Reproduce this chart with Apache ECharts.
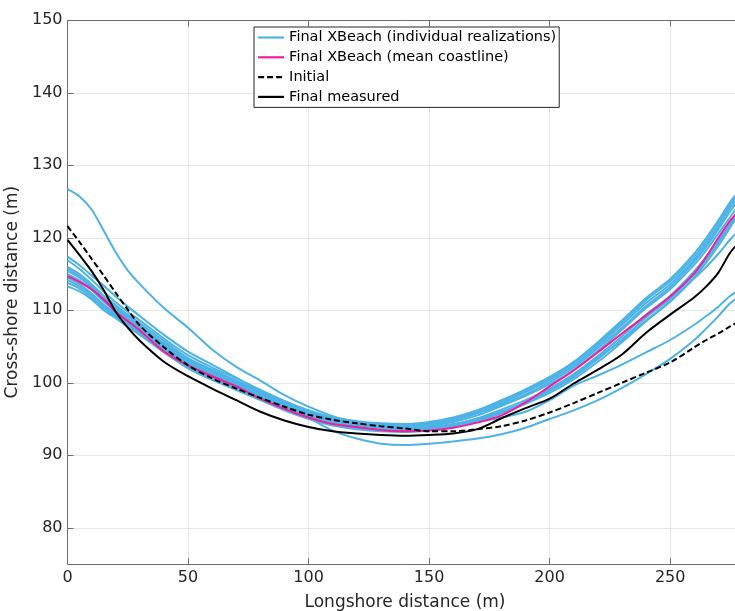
<!DOCTYPE html>
<html>
<head>
<meta charset="utf-8">
<script src="https://cdn.jsdelivr.net/npm/echarts@6/dist/echarts.min.js"></script>
<style>
  html, body { margin: 0; padding: 0; background: #fff; }
  #chart { width: 735px; height: 611px; }
</style>
</head>
<body>
<div id="chart"></div>
<script>
// Longshore positions (m) shared by every coastline
const longshore = [0,5,10,15,20,25,30,40,50,60,70,80,90,100,110,120,130,140,150,160,170,180,190,200,210,220,230,240,250,260,265,270,275,280];

// Cross-shore positions (m)
const initialLine = [121.6,119.4,117.1,114.8,112.4,110.1,107.9,104.9,102.4,100.6,99.2,97.9,96.7,95.6,94.9,94.4,94.0,93.7,93.3,93.3,93.6,94.0,94.8,95.9,97.2,98.6,100.0,101.4,102.8,104.9,105.9,106.8,107.8,108.7];
const measuredLine = [119.7,117.6,115.4,112.8,109.8,107.6,105.8,102.9,100.9,99.2,97.6,96.0,94.8,93.9,93.3,93.0,92.8,92.7,92.8,93.0,93.6,95.1,96.5,97.8,99.9,101.8,103.9,106.9,109.4,111.8,113.3,115.2,118.0,119.8];
const meanLine = [114.7,113.9,112.9,111.5,109.8,108.5,107.2,104.3,102.4,100.9,99.5,97.8,96.4,95.2,94.3,93.9,93.5,93.3,93.4,93.8,94.5,95.5,97.3,99.5,101.7,104.2,106.8,109.3,111.9,115.1,117.4,120.0,122.4,124.3];

// Individual XBeach realizations
const realizations = [
  [126.7,125.7,123.9,121.0,118.0,115.5,113.6,110.3,107.6,104.6,102.2,100.3,98.3,96.7,95.4,94.6,94.1,93.9,93.9,94.1,94.6,95.2,96.0,97.6,99.6,101.0,102.5,104.2,105.9,108.0,109.2,110.5,112.0,113.0],
  [117.4,116.2,114.8,113.4,111.9,110.5,109.2,106.6,104.3,102.5,100.7,98.9,97.0,95.2,93.4,92.3,91.6,91.4,91.6,91.9,92.3,92.9,93.8,95.0,96.2,97.6,99.3,101.2,103.3,105.9,107.5,109.2,111.0,112.2],
  [116.0,115.0,113.6,112.0,110.7,109.4,108.2,105.8,103.4,101.8,100.3,98.8,97.3,96.0,95.1,94.6,94.3,94.2,94.5,95.1,96.1,97.4,98.9,100.6,102.7,105.4,108.3,111.4,114.0,117.4,119.6,122.0,124.6,126.8],
  [113.3,112.6,111.5,110.0,108.9,107.7,106.6,104.2,102.0,100.4,99.0,97.6,96.2,95.0,94.1,93.6,93.3,93.2,93.4,93.9,94.7,95.8,97.1,98.6,100.5,102.9,105.6,108.5,111.2,114.6,116.6,118.9,121.5,124.2],
  [115.4,114.5,113.1,111.5,110.2,108.9,107.7,105.3,103.0,101.4,100.0,98.5,97.0,95.8,94.9,94.4,94.1,94.0,94.2,94.8,95.8,97.0,98.4,100.1,102.1,104.8,107.6,110.6,113.2,116.7,118.8,121.2,123.7,126.0],
  [114.2,113.3,112.1,110.6,109.3,108.2,107.0,104.6,102.4,100.8,99.4,97.9,96.5,95.3,94.4,93.9,93.6,93.5,93.7,94.2,95.1,96.3,97.6,99.2,101.2,103.7,106.4,109.4,112.0,115.4,117.4,119.6,122.0,124.5],
  [115.0,114.1,112.8,111.2,109.9,108.7,107.5,105.1,102.8,101.2,99.8,98.3,96.9,95.7,94.8,94.3,94.0,93.9,94.1,94.6,95.5,96.8,98.2,99.8,101.8,104.4,107.3,110.3,112.9,116.3,118.3,120.6,122.9,125.3],
  [113.8,113.0,111.8,110.3,109.1,107.9,106.8,104.4,102.2,100.6,99.2,97.7,96.3,95.1,94.2,93.7,93.4,93.3,93.5,94.0,94.9,96.0,97.3,98.9,100.8,103.3,106.0,109.0,111.6,115.0,117.0,119.3,121.8,124.3],
  [115.7,114.7,113.3,111.7,110.4,109.1,107.9,105.5,103.2,101.6,100.1,98.6,97.1,95.9,95.0,94.5,94.2,94.1,94.3,94.9,95.9,97.2,98.7,100.4,102.4,105.1,108.0,111.0,113.6,117.0,119.2,121.6,124.2,126.4],
  [114.5,113.6,112.3,110.8,109.6,108.4,107.2,104.8,102.6,101.0,99.6,98.1,96.7,95.5,94.6,94.1,93.8,93.7,93.9,94.3,95.0,96.0,97.3,99.0,101.0,103.5,105.8,108.6,111.2,114.4,116.0,117.8,119.8,121.5],
  [116.9,115.7,114.2,112.6,111.1,109.8,108.6,106.1,103.8,102.1,100.6,99.0,97.5,96.2,95.2,94.7,94.4,94.3,94.6,95.2,96.2,97.6,99.1,100.8,102.9,105.6,108.6,111.7,114.3,117.8,120.0,122.4,125.0,127.0]
];

const xTickStep = 50;
const seriesNames = ['Final XBeach (individual realizations)', 'Final XBeach (mean coastline)', 'Initial', 'Final measured'];

const FONT = 'DejaVu Sans';
const toPairs = arr => longshore.map((x, i) => [x, arr[i]]);

const series = [];
realizations.forEach(r => {
  series.push({
    name: seriesNames[0], type: 'line', data: toPairs(r),
    showSymbol: false, symbol: 'none', smooth: 0.3, z: 2,
    lineStyle: { color: '#4db3e6', width: 2 }, itemStyle: { color: '#4db3e6' }
  });
});
series.push({
  name: seriesNames[1], type: 'line', data: toPairs(meanLine),
  showSymbol: false, symbol: 'none', smooth: 0.3, z: 3,
  lineStyle: { color: '#f81a9e', width: 2 }, itemStyle: { color: '#f81a9e' }
});
series.push({
  name: seriesNames[2], type: 'line', data: toPairs(initialLine),
  showSymbol: false, symbol: 'none', smooth: 0.3, z: 4,
  lineStyle: { color: '#000', width: 2, type: [6, 3] }, itemStyle: { color: '#000' }
});
series.push({
  name: seriesNames[3], type: 'line', data: toPairs(measuredLine),
  showSymbol: false, symbol: 'none', smooth: 0.3, z: 5,
  lineStyle: { color: '#000', width: 2 }, itemStyle: { color: '#000' }
});

const axisColor = '#6e6e6e';
const textColor = '#262626';
const gridColor = '#e6e6e6';

const chart = echarts.init(document.getElementById('chart'), null, { renderer: 'canvas' });
chart.setOption({
  animation: false,
  backgroundColor: '#fff',
  grid: { left: 67.5, top: 20.3, width: 675, height: 543.7, show: false, containLabel: false, outerBoundsMode: 'none' },
  legend: {
    data: seriesNames,
    orient: 'vertical', left: 254, top: 27,
    itemWidth: 26, itemHeight: 14, itemGap: 4.8,
    padding: [3, 3, 3, 3],
    borderColor: '#262626', borderWidth: 1, backgroundColor: '#fff',
    itemStyle: { opacity: 0 },
    lineStyle: { width: 2.2 },
    textStyle: { fontFamily: FONT, fontSize: 14.5, color: '#000' },
    selectedMode: false
  },
  xAxis: [{
    type: 'value', min: 0, max: 280, interval: xTickStep,
    name: 'Longshore distance (m)', nameLocation: 'middle', nameGap: 30,
    nameTextStyle: { fontFamily: FONT, fontSize: 17, color: textColor },
    axisLine: { show: true, onZero: false, lineStyle: { color: axisColor, width: 1 } },
    axisTick: { show: true, inside: true, length: 6, lineStyle: { color: axisColor } },
    axisLabel: { fontFamily: FONT, fontSize: 16, color: textColor, margin: 6, showMaxLabel: false },
    splitLine: { show: true, lineStyle: { color: gridColor, width: 1 } }
  }, {
    type: 'value', min: 0, max: 280, interval: xTickStep, position: 'top',
    axisLine: { show: true, onZero: false, lineStyle: { color: axisColor, width: 1 } },
    axisTick: { show: true, inside: true, length: 6, lineStyle: { color: axisColor } },
    axisLabel: { show: false }, splitLine: { show: false }
  }],
  yAxis: [{
    type: 'value', min: 75, max: 150, splitNumber: 8,
    name: 'Cross-shore distance (m)', nameLocation: 'middle', nameGap: 33,
    nameTextStyle: { fontFamily: FONT, fontSize: 17, color: textColor },
    axisLine: { show: true, onZero: false, lineStyle: { color: axisColor, width: 1 } },
    axisTick: { show: true, inside: true, length: 6, lineStyle: { color: axisColor } },
    axisLabel: {
      fontFamily: FONT, fontSize: 16, color: textColor, margin: 5, showMinLabel: false,
      formatter: v => (v % 10 === 0 ? String(v) : '')
    },
    splitLine: { show: true, lineStyle: { color: gridColor, width: 1 } }
  }],
  series: series
});
</script>
</body>
</html>
